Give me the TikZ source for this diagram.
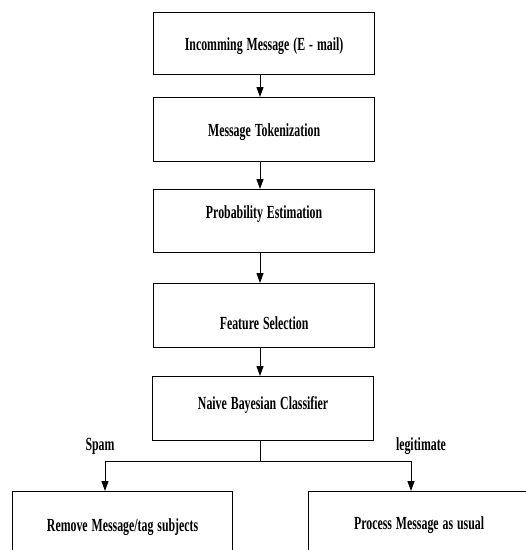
\documentclass[tikz,border=0pt]{standalone}
\usepackage{fontspec}
\setmainfont{Liberation Serif}
\usetikzlibrary{arrows.meta}
\newcommand\sq[1]{\scalebox{0.64}[1]{#1}}
\tikzset{
  stage/.style={draw, line width=1.2pt, inner sep=0pt, align=center,
    text width=221pt, font=\fontsize{18.5}{20}\selectfont\bfseries},
  tag/.style={inner sep=0pt, font=\fontsize{18.5}{20}\selectfont\bfseries},
  flow/.style={line width=1pt, -{Triangle[length=10pt,width=7pt]}}
}
\begin{document}
\begin{tikzpicture}[x=1pt,y=-1pt]
      \clip (0,0) rectangle (526,550);
      \draw
        (153,12) node[stage, anchor=north west, text height=38pt, text depth=24pt] (mail){\sq{Incomming Message (E - mail)}}
        (153,97) node[stage, anchor=north west, text height=39pt, text depth=25pt] (token){\sq{Message Tokenization}}
        (153,189) node[stage, anchor=north west, text height=29pt, text depth=34pt] (prob){\sq{Probability Estimation}}
        (153,283) node[stage, anchor=north west, text height=46pt, text depth=18pt] (feat){\sq{Feature Selection}}
        (152,376) node[stage, anchor=north west, text height=33pt, text depth=31pt] (nbc){\sq{Naive Bayesian Classifier}}
        (12,491) node[stage, text width=220pt, anchor=north west, text height=40pt, text depth=39pt] (remove){\sq{Remove Message/tag subjects}}
        (308,491) node[stage, anchor=north west, text height=38pt, text depth=41pt] (usual){\sq{Process Message as usual}};
      \node[tag] (spam) at (100,446) {\sq{Spam}};
      \node[tag] (legit) at (421,446) {\sq{legitimate}};
      \coordinate (split) at (260,461);
      \coordinate (spamturn) at (105,461);
      \coordinate (legitturn) at (411,461);
      \begin{scope}[flow]
        \draw (mail.south -| split) to (token.north -| split);
        \draw (token.south -| split) to (prob.north -| split);
        \draw (prob.south -| split) to (feat.north -| split);
        \draw (feat.south -| split) to (nbc.north -| split);
        \draw (spamturn) to (remove.north -| spamturn);
        \draw (legitturn) to (usual.north -| legitturn);
      \end{scope}
      \begin{scope}[line width=1pt]
        \draw (nbc.south -| split) to (split);
        \draw (spamturn) to (legitturn);
      \end{scope}
    \end{tikzpicture}
\end{document}
